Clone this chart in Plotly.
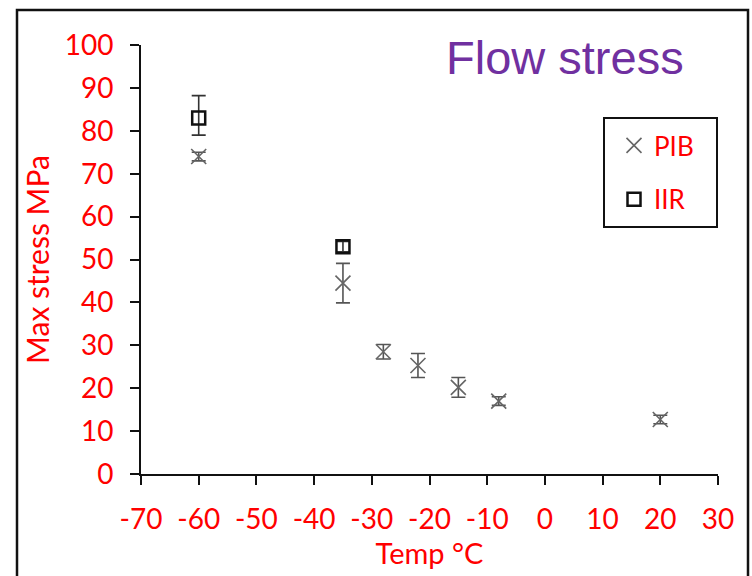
import plotly.graph_objects as go

# Data
pib_temp = [-60, -35, -28, -22, -15, -8, 20]
pib_stress = [74, 44.5, 28.5, 25.3, 20.2, 17, 12.7]
pib_err = [1, 4.6, 1.7, 2.8, 2.3, 1, 1]

iir_temp = [-60, -35]
iir_stress = [83, 53]
iir_err_plus = [5.2, 1.2]
iir_err_minus = [4, 1.2]

x_ticks = [-70, -60, -50, -40, -30, -20, -10, 0, 10, 20, 30]
y_ticks = [0, 10, 20, 30, 40, 50, 60, 70, 80, 90, 100]

RED = "#FF0000"
FONT = "Lato"

fig = go.Figure()
fig.add_trace(go.Scatter(
    x=pib_temp, y=pib_stress, mode="markers", name="PIB",
    legendgroup="a",
    marker=dict(symbol="x-thin-open", size=15, color="#666666",
                line=dict(width=1.6, color="#666666")),
    error_y=dict(type="data", array=pib_err, color="#555555",
                 thickness=1.6, width=7),
))
fig.add_trace(go.Scatter(
    x=iir_temp, y=iir_stress, mode="markers", name="IIR",
    legendgroup="b",
    marker=dict(symbol="square-open", size=13, color="#111111",
                line=dict(width=2.5, color="#111111")),
    error_y=dict(type="data", symmetric=False, array=iir_err_plus,
                 arrayminus=iir_err_minus, color="#333333",
                 thickness=1.6, width=7),
))

W, H = 752, 576
L, R, T, B = 141, 34, 45, 102
PW, PH = W - L - R, H - T - B


def px_x(p):
    return (p - L) / PW


def px_y(p):
    return (H - B - p) / PH


fig.update_layout(
    width=W, height=H,
    margin=dict(l=L, r=R, t=T, b=B),
    paper_bgcolor="white", plot_bgcolor="white",
    font=dict(family=FONT, color=RED, size=28),
    showlegend=True,
    legend=dict(
        x=px_x(614), y=px_y(122), xanchor="left", yanchor="top",
        borderwidth=0, bgcolor="rgba(0,0,0,0)",
        font=dict(family=FONT, color=RED, size=26),
        traceorder="grouped", tracegroupgap=17,
        itemwidth=30,
    ),
    xaxis=dict(
        range=[-70, 30], tickvals=x_ticks, ticktext=[str(v) for v in x_ticks],
        showgrid=False, zeroline=False, showline=True, automargin=False,
        linecolor="#111111", linewidth=2,
        ticks="outside", ticklen=9, tickwidth=2, tickcolor="#111111",
        tickfont=dict(family=FONT, color=RED, size=28),
        ticklabelstandoff=10,
        title=dict(text="Temp \u00b0C", font=dict(family=FONT, color=RED, size=29),
                   standoff=10),
    ),
    yaxis=dict(
        range=[0, 100], tickvals=y_ticks, ticktext=[str(v) for v in y_ticks],
        showgrid=False, zeroline=False, showline=True, automargin=False,
        linecolor="#111111", linewidth=2,
        ticks="outside", ticklen=9, tickwidth=2, tickcolor="#111111",
        tickfont=dict(family=FONT, color=RED, size=28),
        ticklabelstandoff=11,
        title=dict(text="Max stress MPa", font=dict(family=FONT, color=RED, size=30),
                   standoff=6),
    ),
)

# Outer frame
fig.add_shape(type="rect", xref="paper", yref="paper",
              x0=px_x(17), x1=px_x(748), y0=px_y(620), y1=px_y(10),
              line=dict(color="#111111", width=2.5), layer="below")

# Legend frame
fig.add_shape(type="rect", xref="paper", yref="paper",
              x0=px_x(604), x1=px_x(717), y0=px_y(227), y1=px_y(118),
              line=dict(color="#111111", width=2), layer="above")

# Title text
fig.add_annotation(text="Flow stress", xref="paper", yref="paper",
                   x=px_x(565), y=px_y(58),
                   xanchor="center", yanchor="middle", showarrow=False,
                   font=dict(family="Liberation Sans", size=47, color="#7030A0"))

fig.write_html("out.html", config={"displayModeBar": False},
               post_script="document.body.style.margin='0';document.body.style.padding='0';")
